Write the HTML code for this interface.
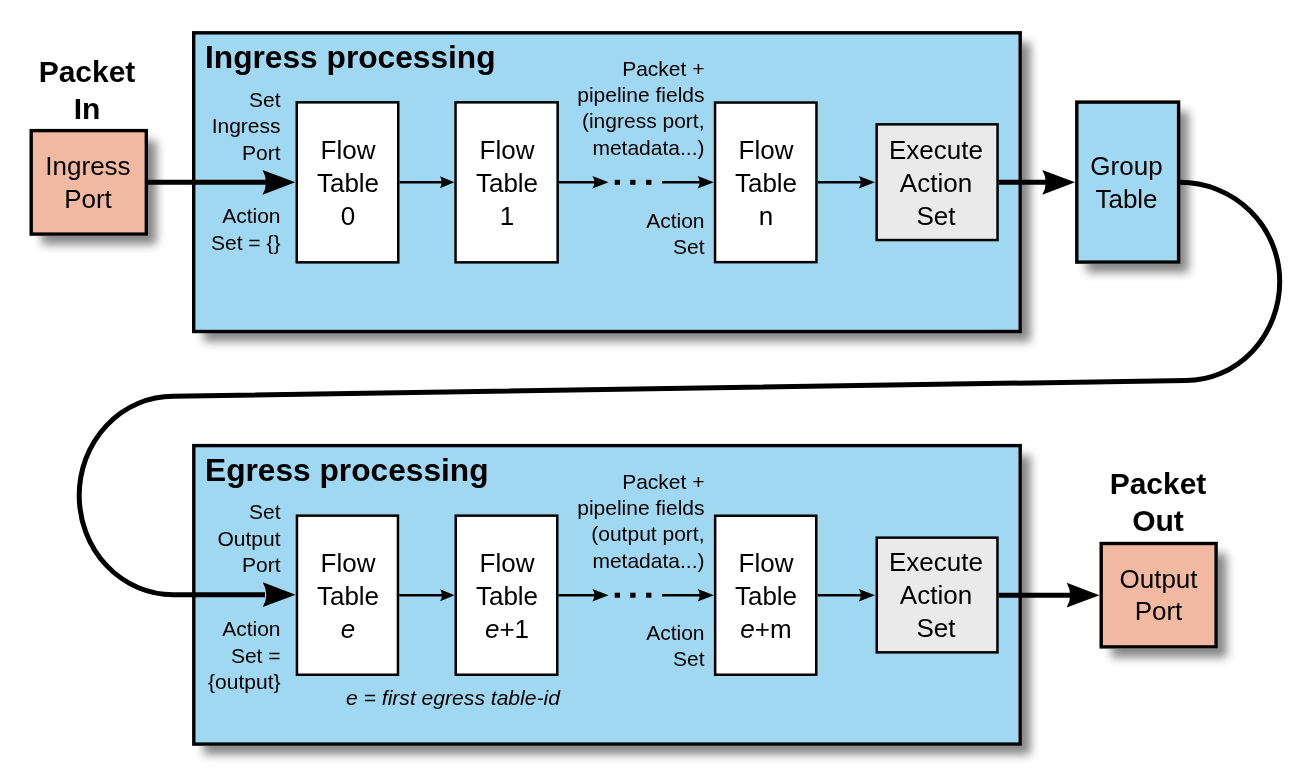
<!DOCTYPE html>
<html><head><meta charset="utf-8"><style>
html,body{margin:0;padding:0;background:#fff;}
body{width:1314px;height:780px;position:relative;overflow:hidden;font-family:"Liberation Sans",sans-serif;color:#000;}
.sh{position:absolute;background:transparent;box-shadow: 9.5px 9.5px 9px -1px rgba(0,0,0,0.48);}
svg{position:absolute;left:0;top:0;}
.t{position:absolute;white-space:nowrap;will-change:transform;}
</style></head><body>
<div class="sh" style="left:29.50px;top:128.90px;width:118.50px;height:106.90px"></div><div class="sh" style="left:192.00px;top:31.10px;width:829.90px;height:302.10px"></div><div class="sh" style="left:1075.10px;top:100.40px;width:105.20px;height:163.40px"></div><div class="sh" style="left:192.10px;top:443.90px;width:829.80px;height:301.90px"></div><div class="sh" style="left:1099.50px;top:541.80px;width:118.30px;height:106.80px"></div>
<svg width="1314" height="780" viewBox="0 0 1314 780">
<rect x="193.70" y="32.80" width="826.50" height="298.70" fill="#a0d7f1" stroke="#000" stroke-width="3.4"/>
<rect x="193.80" y="445.60" width="826.40" height="298.50" fill="#a0d7f1" stroke="#000" stroke-width="3.4"/>
<rect x="31.20" y="130.60" width="115.10" height="103.50" fill="#f1b9a1" stroke="#000" stroke-width="3.4"/>
<rect x="1101.20" y="543.50" width="114.90" height="103.40" fill="#f1b9a1" stroke="#000" stroke-width="3.4"/>
<rect x="1076.80" y="102.10" width="101.80" height="160.00" fill="#a0d7f1" stroke="#000" stroke-width="3.4"/>
<rect x="296.75" y="102.35" width="101.50" height="160.00" fill="#fff" stroke="#000" stroke-width="2.5"/>
<rect x="455.55" y="102.35" width="102.10" height="160.00" fill="#fff" stroke="#000" stroke-width="2.5"/>
<rect x="715.05" y="102.55" width="101.40" height="159.60" fill="#fff" stroke="#000" stroke-width="2.5"/>
<rect x="876.65" y="124.35" width="120.90" height="115.70" fill="#eaeaea" stroke="#000" stroke-width="2.5"/>
<rect x="296.95" y="515.65" width="101.00" height="159.10" fill="#fff" stroke="#000" stroke-width="2.5"/>
<rect x="455.75" y="515.65" width="101.50" height="159.10" fill="#fff" stroke="#000" stroke-width="2.5"/>
<rect x="715.15" y="515.75" width="101.10" height="159.00" fill="#fff" stroke="#000" stroke-width="2.5"/>
<rect x="876.75" y="537.65" width="120.70" height="114.70" fill="#eaeaea" stroke="#000" stroke-width="2.5"/>
<line x1="148" y1="182.3" x2="268.0" y2="182.3" stroke="#000" stroke-width="5.0"/><path d="M295.30,182.30 L262.50,169.90 Q269.50,182.30 262.50,194.70 Z" fill="#000"/>
<line x1="399.5" y1="182.3" x2="442.8" y2="182.3" stroke="#000" stroke-width="2.6"/><path d="M454.30,182.30 L439.90,176.30 Q443.70,182.30 439.90,188.30 Z" fill="#000"/>
<line x1="558.9" y1="182.3" x2="595.5" y2="182.3" stroke="#000" stroke-width="2.6"/><path d="M608.60,182.30 L592.40,176.10 Q596.60,182.30 592.40,188.50 Z" fill="#000"/>
<rect x="614.7" y="179.8" width="5.3" height="5" fill="#000"/>
<rect x="630.2" y="179.8" width="5.3" height="5" fill="#000"/>
<rect x="646.1" y="179.8" width="5.3" height="5" fill="#000"/>
<line x1="662" y1="182.3" x2="700.6999999999999" y2="182.3" stroke="#000" stroke-width="2.6"/><path d="M713.80,182.30 L697.60,176.10 Q701.80,182.30 697.60,188.50 Z" fill="#000"/>
<line x1="817.7" y1="182.3" x2="861.9" y2="182.3" stroke="#000" stroke-width="2.6"/><path d="M875.00,182.30 L858.80,176.10 Q863.00,182.30 858.80,188.50 Z" fill="#000"/>
<line x1="998.8" y1="182.3" x2="1047.8" y2="182.3" stroke="#000" stroke-width="5.0"/><path d="M1075.10,182.30 L1042.30,169.90 Q1049.30,182.30 1042.30,194.70 Z" fill="#000"/>
<line x1="399.2" y1="595.2" x2="443.0" y2="595.2" stroke="#000" stroke-width="2.6"/><path d="M454.50,595.20 L440.10,589.20 Q443.90,595.20 440.10,601.20 Z" fill="#000"/>
<line x1="558.5" y1="595.2" x2="595.5" y2="595.2" stroke="#000" stroke-width="2.6"/><path d="M608.60,595.20 L592.40,589.00 Q596.60,595.20 592.40,601.40 Z" fill="#000"/>
<rect x="614.7" y="592.7" width="5.3" height="5" fill="#000"/>
<rect x="630.2" y="592.7" width="5.3" height="5" fill="#000"/>
<rect x="646.1" y="592.7" width="5.3" height="5" fill="#000"/>
<line x1="662" y1="595.2" x2="700.8" y2="595.2" stroke="#000" stroke-width="2.6"/><path d="M713.90,595.20 L697.70,589.00 Q701.90,595.20 697.70,601.40 Z" fill="#000"/>
<line x1="817.5" y1="595.2" x2="861.9" y2="595.2" stroke="#000" stroke-width="2.6"/><path d="M875.00,595.20 L858.80,589.00 Q863.00,595.20 858.80,601.40 Z" fill="#000"/>
<line x1="998.7" y1="595.2" x2="1072.2" y2="595.2" stroke="#000" stroke-width="5.0"/><path d="M1099.50,595.20 L1066.70,582.80 Q1073.70,595.20 1066.70,607.60 Z" fill="#000"/>
<path d="M1180,182.3 A99.7,99.1 0 0 1 1279.7,281.4 A93.7,99.1 0 0 1 1186,380.5 L173,396.3 A93.8,99.2 0 0 0 79.2,495.5 A93.8,99.2 0 0 0 173,594.7 L265,594.7" fill="none" stroke="#000" stroke-width="5.0"/>
<path d="M295.60,594.70 L262.80,582.30 Q269.80,594.70 262.80,607.10 Z" fill="#000"/>
</svg>
<div class="t" style="left:17px;top:54px;width:140px;font-size:30px;line-height:36.8px;text-align:center;font-weight:bold;font-style:normal">Packet<br>In</div>
<div class="t" style="left:17.5px;top:150px;width:140px;font-size:26px;line-height:33.3px;text-align:center;font-weight:normal;font-style:normal">Ingress<br>Port</div>
<div class="t" style="left:205px;top:39px;width:500px;font-size:31.7px;line-height:36px;text-align:left;font-weight:bold;font-style:normal">Ingress processing</div>
<div class="t" style="left:130px;top:87px;width:150.5px;font-size:21px;line-height:26.3px;text-align:right;font-weight:normal;font-style:normal">Set<br>Ingress<br>Port</div>
<div class="t" style="left:130px;top:203px;width:150.5px;font-size:21px;line-height:26.9px;text-align:right;font-weight:normal;font-style:normal">Action<br>Set = {}</div>
<div class="t" style="left:297.5px;top:134px;width:100px;font-size:26px;line-height:33.2px;text-align:center;font-weight:normal;font-style:normal">Flow<br>Table<br>0</div>
<div class="t" style="left:456.5px;top:134px;width:100px;font-size:26px;line-height:33.2px;text-align:center;font-weight:normal;font-style:normal">Flow<br>Table<br>1</div>
<div class="t" style="left:504px;top:56px;width:200.5px;font-size:21px;line-height:26.2px;text-align:right;font-weight:normal;font-style:normal">Packet +<br>pipeline fields<br>(ingress port,<br>metadata...)</div>
<div class="t" style="left:504px;top:208px;width:200.5px;font-size:21px;line-height:26px;text-align:right;font-weight:normal;font-style:normal">Action<br>Set</div>
<div class="t" style="left:715.8px;top:134px;width:100px;font-size:26px;line-height:33.2px;text-align:center;font-weight:normal;font-style:normal">Flow<br>Table<br>n</div>
<div class="t" style="left:876.3px;top:134px;width:120px;font-size:26px;line-height:33.2px;text-align:center;font-weight:normal;font-style:normal">Execute<br>Action<br>Set</div>
<div class="t" style="left:1076.3px;top:150px;width:101px;font-size:26px;line-height:32.5px;text-align:center;font-weight:normal;font-style:normal">Group<br>Table</div>
<div class="t" style="left:205px;top:452px;width:500px;font-size:31.7px;line-height:36px;text-align:left;font-weight:bold;font-style:normal">Egress processing</div>
<div class="t" style="left:130px;top:498.5px;width:150.5px;font-size:21px;line-height:26.5px;text-align:right;font-weight:normal;font-style:normal">Set<br>Output<br>Port</div>
<div class="t" style="left:130px;top:616px;width:150.5px;font-size:21px;line-height:26.5px;text-align:right;font-weight:normal;font-style:normal">Action<br>Set =<br>{output}</div>
<div class="t" style="left:297.5px;top:547px;width:100px;font-size:26px;line-height:33.2px;text-align:center;font-weight:normal;font-style:normal">Flow<br>Table<br><i>e</i></div>
<div class="t" style="left:456.5px;top:547px;width:100px;font-size:26px;line-height:33.2px;text-align:center;font-weight:normal;font-style:normal">Flow<br>Table<br><i>e</i>+1</div>
<div class="t" style="left:504px;top:469px;width:200.5px;font-size:21px;line-height:26.2px;text-align:right;font-weight:normal;font-style:normal">Packet +<br>pipeline fields<br>(output port,<br>metadata...)</div>
<div class="t" style="left:504px;top:620px;width:200.5px;font-size:21px;line-height:26px;text-align:right;font-weight:normal;font-style:normal">Action<br>Set</div>
<div class="t" style="left:715.8px;top:547px;width:100px;font-size:26px;line-height:33.2px;text-align:center;font-weight:normal;font-style:normal">Flow<br>Table<br><i>e</i>+m</div>
<div class="t" style="left:876.3px;top:546px;width:120px;font-size:26px;line-height:33.2px;text-align:center;font-weight:normal;font-style:normal">Execute<br>Action<br>Set</div>
<div class="t" style="left:345.5px;top:685px;width:300px;font-size:21.1px;line-height:26px;text-align:left;font-weight:normal;font-style:italic">e = first egress table-id</div>
<div class="t" style="left:1087.5px;top:465px;width:140px;font-size:30px;line-height:37px;text-align:center;font-weight:bold;font-style:normal">Packet<br>Out</div>
<div class="t" style="left:1101px;top:563px;width:115px;font-size:26px;line-height:32.3px;text-align:center;font-weight:normal;font-style:normal">Output<br>Port</div>
</body></html>
